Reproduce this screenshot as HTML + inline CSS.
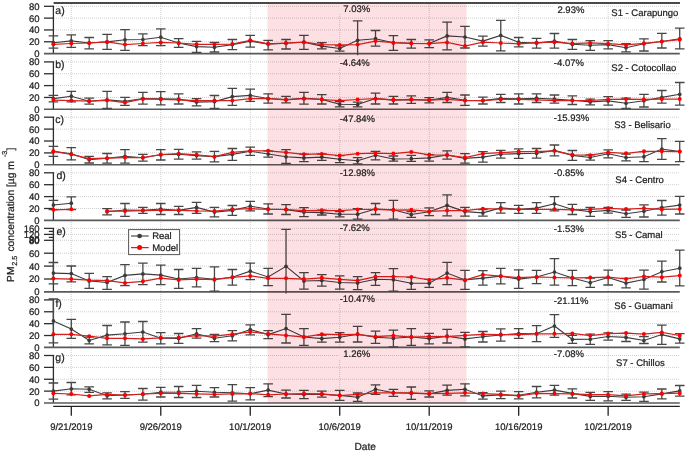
<!DOCTYPE html>
<html><head><meta charset="utf-8"><style>
html,body{margin:0;padding:0;background:#fff;width:685px;height:452px;overflow:hidden;position:relative}
text{font-family:"Liberation Sans",sans-serif;text-rendering:geometricPrecision}
</style></head><body>
<svg width="685" height="452" viewBox="0 0 685 452" style="position:absolute;left:0;top:0;filter:blur(0.35px)">
<defs>
<clipPath id="c0"><rect x="44" y="4.3" width="650" height="50.90"/></clipPath>
<clipPath id="c1"><rect x="44" y="59.9" width="650" height="51.00"/></clipPath>
<clipPath id="c2"><rect x="44" y="115.2" width="650" height="51.20"/></clipPath>
<clipPath id="c3"><rect x="44" y="170.8" width="650" height="51.20"/></clipPath>
<clipPath id="c4"><rect x="44" y="226.4" width="650" height="67.10"/></clipPath>
<clipPath id="c5"><rect x="44" y="297.9" width="650" height="51.10"/></clipPath>
<clipPath id="c6"><rect x="44" y="353.5" width="650" height="51.10"/></clipPath>
</defs>
<rect width="685" height="452" fill="#fff"/>
<g stroke="#d0d0d0" stroke-width="1" stroke-dasharray="1 1" fill="none"><line x1="54" y1="41.77" x2="680" y2="41.77"/><line x1="54" y1="29.95" x2="680" y2="29.95"/><line x1="54" y1="18.12" x2="680" y2="18.12"/><line x1="54" y1="6.30" x2="680" y2="6.30"/><line x1="54" y1="97.45" x2="680" y2="97.45"/><line x1="54" y1="85.60" x2="680" y2="85.60"/><line x1="54" y1="73.75" x2="680" y2="73.75"/><line x1="54" y1="61.90" x2="680" y2="61.90"/><line x1="54" y1="152.90" x2="680" y2="152.90"/><line x1="54" y1="141.00" x2="680" y2="141.00"/><line x1="54" y1="129.10" x2="680" y2="129.10"/><line x1="54" y1="117.20" x2="680" y2="117.20"/><line x1="54" y1="208.50" x2="680" y2="208.50"/><line x1="54" y1="196.60" x2="680" y2="196.60"/><line x1="54" y1="184.70" x2="680" y2="184.70"/><line x1="54" y1="172.80" x2="680" y2="172.80"/><line x1="54" y1="279.00" x2="680" y2="279.00"/><line x1="54" y1="266.10" x2="680" y2="266.10"/><line x1="54" y1="253.20" x2="680" y2="253.20"/><line x1="54" y1="240.30" x2="680" y2="240.30"/><line x1="54" y1="234.40" x2="680" y2="234.40"/><line x1="54" y1="228.40" x2="680" y2="228.40"/><line x1="54" y1="335.52" x2="680" y2="335.52"/><line x1="54" y1="323.65" x2="680" y2="323.65"/><line x1="54" y1="311.77" x2="680" y2="311.77"/><line x1="54" y1="299.90" x2="680" y2="299.90"/><line x1="54" y1="391.12" x2="680" y2="391.12"/><line x1="54" y1="379.25" x2="680" y2="379.25"/><line x1="54" y1="367.38" x2="680" y2="367.38"/><line x1="54" y1="355.50" x2="680" y2="355.50"/><line x1="71.30" y1="4" x2="71.30" y2="403"/><line x1="160.77" y1="4" x2="160.77" y2="403"/><line x1="250.25" y1="4" x2="250.25" y2="403"/><line x1="339.72" y1="4" x2="339.72" y2="403"/><line x1="429.19" y1="4" x2="429.19" y2="403"/><line x1="518.67" y1="4" x2="518.67" y2="403"/><line x1="608.14" y1="4" x2="608.14" y2="403"/></g>
<g fill="#fff"><rect x="338.70" y="3.50" width="31.07" height="10.6"/><rect x="552.80" y="4.60" width="31.07" height="10.6"/><rect x="338.70" y="57.50" width="31.60" height="10.6"/><rect x="552.80" y="57.10" width="31.60" height="10.6"/><rect x="338.70" y="113.30" width="36.88" height="10.6"/><rect x="552.80" y="112.10" width="36.88" height="10.6"/><rect x="338.70" y="168.00" width="36.88" height="10.6"/><rect x="552.80" y="168.00" width="31.60" height="10.6"/><rect x="338.70" y="222.40" width="31.60" height="10.6"/><rect x="552.80" y="223.20" width="31.60" height="10.6"/><rect x="338.70" y="293.10" width="36.88" height="10.6"/><rect x="552.80" y="295.20" width="36.18" height="10.6"/><rect x="338.70" y="348.40" width="31.07" height="10.6"/><rect x="552.80" y="348.40" width="31.60" height="10.6"/></g>
<g stroke="#2e2e2e" stroke-width="1.3" fill="none"><line x1="53.4" y1="5.70" x2="53.4" y2="53.60"/><line x1="44" y1="41.77" x2="53.4" y2="41.77"/><line x1="44" y1="29.95" x2="53.4" y2="29.95"/><line x1="44" y1="18.12" x2="53.4" y2="18.12"/><line x1="44" y1="6.30" x2="53.4" y2="6.30"/><line x1="53.4" y1="61.30" x2="53.4" y2="109.30"/><line x1="44" y1="97.45" x2="53.4" y2="97.45"/><line x1="44" y1="85.60" x2="53.4" y2="85.60"/><line x1="44" y1="73.75" x2="53.4" y2="73.75"/><line x1="44" y1="61.90" x2="53.4" y2="61.90"/><line x1="53.4" y1="116.60" x2="53.4" y2="164.80"/><line x1="44" y1="152.90" x2="53.4" y2="152.90"/><line x1="44" y1="141.00" x2="53.4" y2="141.00"/><line x1="44" y1="129.10" x2="53.4" y2="129.10"/><line x1="44" y1="117.20" x2="53.4" y2="117.20"/><line x1="53.4" y1="172.20" x2="53.4" y2="220.40"/><line x1="44" y1="208.50" x2="53.4" y2="208.50"/><line x1="44" y1="196.60" x2="53.4" y2="196.60"/><line x1="44" y1="184.70" x2="53.4" y2="184.70"/><line x1="44" y1="172.80" x2="53.4" y2="172.80"/><line x1="53.4" y1="227.80" x2="53.4" y2="291.90"/><line x1="44" y1="279.00" x2="53.4" y2="279.00"/><line x1="44" y1="266.10" x2="53.4" y2="266.10"/><line x1="44" y1="253.20" x2="53.4" y2="253.20"/><line x1="44" y1="240.30" x2="53.4" y2="240.30"/><line x1="44" y1="228.40" x2="53.4" y2="228.40"/><line x1="48.8" y1="231.40" x2="53.4" y2="231.40"/><line x1="44" y1="234.40" x2="53.4" y2="234.40"/><line x1="48.8" y1="237.40" x2="53.4" y2="237.40"/><line x1="53.4" y1="299.30" x2="53.4" y2="347.40"/><line x1="44" y1="335.52" x2="53.4" y2="335.52"/><line x1="44" y1="323.65" x2="53.4" y2="323.65"/><line x1="44" y1="311.77" x2="53.4" y2="311.77"/><line x1="44" y1="299.90" x2="53.4" y2="299.90"/><line x1="53.4" y1="354.90" x2="53.4" y2="403.00"/><line x1="44" y1="391.12" x2="53.4" y2="391.12"/><line x1="44" y1="379.25" x2="53.4" y2="379.25"/><line x1="44" y1="367.38" x2="53.4" y2="367.38"/><line x1="44" y1="355.50" x2="53.4" y2="355.50"/></g>
<g stroke="#5a5a5a" stroke-width="1.6"><line x1="44" y1="53.60" x2="679.8" y2="53.60"/><line x1="44" y1="109.30" x2="679.8" y2="109.30"/><line x1="44" y1="164.80" x2="679.8" y2="164.80"/><line x1="44" y1="220.40" x2="679.8" y2="220.40"/><line x1="44" y1="291.90" x2="679.8" y2="291.90"/><line x1="44" y1="347.40" x2="679.8" y2="347.40"/><line x1="44" y1="403.00" x2="679.8" y2="403.00"/></g>
<line x1="53.6" y1="3" x2="680" y2="3" stroke="#4a4a4a" stroke-width="1.9"/>
<g stroke="#222" stroke-width="1.3"><line x1="53.2" y1="406.4" x2="679.8" y2="406.4"/><line x1="71.30" y1="406.4" x2="71.30" y2="415.7"/><line x1="160.77" y1="406.4" x2="160.77" y2="415.7"/><line x1="250.25" y1="406.4" x2="250.25" y2="415.7"/><line x1="339.72" y1="406.4" x2="339.72" y2="415.7"/><line x1="429.19" y1="406.4" x2="429.19" y2="415.7"/><line x1="518.67" y1="406.4" x2="518.67" y2="415.7"/><line x1="608.14" y1="406.4" x2="608.14" y2="415.7"/></g>
<g clip-path="url(#c0)">
<path d="M53.40 35.90V48.20M48.60 35.90H58.20M48.60 48.20H58.20M71.30 34.80V47.40M66.50 34.80H76.09M66.50 47.40H76.09M89.19 37.50V48.80M84.39 37.50H93.99M84.39 48.80H93.99M107.09 34.30V49.30M102.29 34.30H111.89M102.29 49.30H111.89M124.98 29.60V50.40M120.18 29.60H129.78M120.18 50.40H129.78M142.88 33.80V45.70M138.07 33.80H147.68M138.07 45.70H147.68M160.77 28.80V45.70M155.97 28.80H165.57M155.97 45.70H165.57M178.66 38.60V47.40M173.86 38.60H183.47M173.86 47.40H183.47M196.56 41.40V52.40M191.76 41.40H201.36M191.76 52.40H201.36M214.46 42.50V52.00M209.66 42.50H219.26M209.66 52.00H219.26M232.35 39.50V49.60M227.55 39.50H237.15M227.55 49.60H237.15M250.25 35.40V47.20M245.44 35.40H255.05M245.44 47.20H255.05M268.14 40.30V49.80M263.34 40.30H272.94M263.34 49.80H272.94M286.03 39.50V49.00M281.23 39.50H290.83M281.23 49.00H290.83M303.93 35.40V49.30M299.13 35.40H308.73M299.13 49.30H308.73M321.82 42.70V48.80M317.02 42.70H326.62M317.02 48.80H326.62M339.72 45.80V51.20M334.92 45.80H344.52M334.92 51.20H344.52M357.61 20.90V59.70M352.81 20.90H362.41M352.81 59.70H362.41M375.51 30.50V46.10M370.71 30.50H380.31M370.71 46.10H380.31M393.40 35.60V50.40M388.60 35.60H398.20M388.60 50.40H398.20M411.30 39.50V48.20M406.50 39.50H416.10M406.50 48.20H416.10M429.19 39.80V47.70M424.39 39.80H434.00M424.39 47.70H434.00M447.09 22.20V49.80M442.29 22.20H451.89M442.29 49.80H451.89M464.98 26.40V48.00M460.18 26.40H469.78M460.18 48.00H469.78M482.88 36.20V46.10M478.08 36.20H487.68M478.08 46.10H487.68M500.77 20.40V50.90M495.97 20.40H505.57M495.97 50.90H505.57M518.67 37.50V46.90M513.87 37.50H523.47M513.87 46.90H523.47M536.56 38.30V48.20M531.76 38.30H541.36M531.76 48.20H541.36M554.46 33.50V48.20M549.66 33.50H559.26M549.66 48.20H559.26M572.36 39.50V49.30M567.56 39.50H577.15M567.56 49.30H577.15M590.25 40.60V50.30M585.45 40.60H595.05M585.45 50.30H595.05M608.14 40.60V48.80M603.35 40.60H612.94M603.35 48.80H612.94M626.04 43.70V51.80M621.24 43.70H630.84M621.24 51.80H630.84M643.93 38.80V51.00M639.13 38.80H648.73M639.13 51.00H648.73M661.83 33.40V48.00M657.03 33.40H666.63M657.03 48.00H666.63M679.72 28.10V48.80M674.92 28.10H684.52M674.92 48.80H684.52" stroke="#474747" stroke-width="1.3" fill="none"/>
<polyline points="53.40,42.70 71.30,40.90 89.19,43.00 107.09,41.90 124.98,39.80 142.88,39.50 160.77,37.20 178.66,43.00 196.56,46.60 214.46,47.20 232.35,44.60 250.25,41.10 268.14,44.10 286.03,43.30 303.93,42.20 321.82,46.10 339.72,48.50 357.61,40.30 375.51,38.70 393.40,42.70 411.30,43.30 429.19,43.50 447.09,35.90 464.98,37.00 482.88,41.10 500.77,35.40 518.67,42.20 536.56,43.10 554.46,41.10 572.36,44.30 590.25,45.20 608.14,44.60 626.04,47.70 643.93,43.70 661.83,41.50 679.72,38.80" stroke="#3c3c3c" stroke-width="1.1" fill="none"/>
<polyline points="53.40,44.30 71.30,43.50 89.19,43.00 107.09,41.90 124.98,44.60 142.88,43.50 160.77,42.50 178.66,43.00 196.56,44.30 214.46,44.30 232.35,44.10 250.25,40.30 268.14,43.80 286.03,43.00 303.93,42.20 321.82,44.60 339.72,44.90 357.61,44.60 375.51,41.10 393.40,42.70 411.30,43.30 429.19,43.50 447.09,42.50 464.98,46.10 482.88,42.20 500.77,43.00 518.67,43.80 536.56,42.70 554.46,42.20 572.36,43.50 590.25,42.90 608.14,43.70 626.04,44.90 643.93,43.40 661.83,41.50 679.72,39.60" stroke="#d42020" stroke-width="1.25" fill="none"/>
<g fill="#3c3c3c"><circle cx="53.40" cy="42.70" r="1.85"/><circle cx="71.30" cy="40.90" r="1.85"/><circle cx="89.19" cy="43.00" r="1.85"/><circle cx="107.09" cy="41.90" r="1.85"/><circle cx="124.98" cy="39.80" r="1.85"/><circle cx="142.88" cy="39.50" r="1.85"/><circle cx="160.77" cy="37.20" r="1.85"/><circle cx="178.66" cy="43.00" r="1.85"/><circle cx="196.56" cy="46.60" r="1.85"/><circle cx="214.46" cy="47.20" r="1.85"/><circle cx="232.35" cy="44.60" r="1.85"/><circle cx="250.25" cy="41.10" r="1.85"/><circle cx="268.14" cy="44.10" r="1.85"/><circle cx="286.03" cy="43.30" r="1.85"/><circle cx="303.93" cy="42.20" r="1.85"/><circle cx="321.82" cy="46.10" r="1.85"/><circle cx="339.72" cy="48.50" r="1.85"/><circle cx="357.61" cy="40.30" r="1.85"/><circle cx="375.51" cy="38.70" r="1.85"/><circle cx="393.40" cy="42.70" r="1.85"/><circle cx="411.30" cy="43.30" r="1.85"/><circle cx="429.19" cy="43.50" r="1.85"/><circle cx="447.09" cy="35.90" r="1.85"/><circle cx="464.98" cy="37.00" r="1.85"/><circle cx="482.88" cy="41.10" r="1.85"/><circle cx="500.77" cy="35.40" r="1.85"/><circle cx="518.67" cy="42.20" r="1.85"/><circle cx="536.56" cy="43.10" r="1.85"/><circle cx="554.46" cy="41.10" r="1.85"/><circle cx="572.36" cy="44.30" r="1.85"/><circle cx="590.25" cy="45.20" r="1.85"/><circle cx="608.14" cy="44.60" r="1.85"/><circle cx="626.04" cy="47.70" r="1.85"/><circle cx="643.93" cy="43.70" r="1.85"/><circle cx="661.83" cy="41.50" r="1.85"/><circle cx="679.72" cy="38.80" r="1.85"/></g>
<g fill="#ff0000"><circle cx="53.40" cy="44.30" r="2.0"/><circle cx="71.30" cy="43.50" r="2.0"/><circle cx="89.19" cy="43.00" r="2.0"/><circle cx="107.09" cy="41.90" r="2.0"/><circle cx="124.98" cy="44.60" r="2.0"/><circle cx="142.88" cy="43.50" r="2.0"/><circle cx="160.77" cy="42.50" r="2.0"/><circle cx="178.66" cy="43.00" r="2.0"/><circle cx="196.56" cy="44.30" r="2.0"/><circle cx="214.46" cy="44.30" r="2.0"/><circle cx="232.35" cy="44.10" r="2.0"/><circle cx="250.25" cy="40.30" r="2.0"/><circle cx="268.14" cy="43.80" r="2.0"/><circle cx="286.03" cy="43.00" r="2.0"/><circle cx="303.93" cy="42.20" r="2.0"/><circle cx="321.82" cy="44.60" r="2.0"/><circle cx="339.72" cy="44.90" r="2.0"/><circle cx="357.61" cy="44.60" r="2.0"/><circle cx="375.51" cy="41.10" r="2.0"/><circle cx="393.40" cy="42.70" r="2.0"/><circle cx="411.30" cy="43.30" r="2.0"/><circle cx="429.19" cy="43.50" r="2.0"/><circle cx="447.09" cy="42.50" r="2.0"/><circle cx="464.98" cy="46.10" r="2.0"/><circle cx="482.88" cy="42.20" r="2.0"/><circle cx="500.77" cy="43.00" r="2.0"/><circle cx="518.67" cy="43.80" r="2.0"/><circle cx="536.56" cy="42.70" r="2.0"/><circle cx="554.46" cy="42.20" r="2.0"/><circle cx="572.36" cy="43.50" r="2.0"/><circle cx="590.25" cy="42.90" r="2.0"/><circle cx="608.14" cy="43.70" r="2.0"/><circle cx="626.04" cy="44.90" r="2.0"/><circle cx="643.93" cy="43.40" r="2.0"/><circle cx="661.83" cy="41.50" r="2.0"/><circle cx="679.72" cy="39.60" r="2.0"/></g>
</g>
<g clip-path="url(#c1)">
<path d="M53.40 95.40V101.80M48.60 95.40H58.20M48.60 101.80H58.20M71.30 91.40V101.80M66.50 91.40H76.09M66.50 101.80H76.09M89.19 98.20V104.20M84.39 98.20H93.99M84.39 104.20H93.99M107.09 91.40V108.40M102.29 91.40H111.89M102.29 108.40H111.89M124.98 97.40V105.30M120.18 97.40H129.78M120.18 105.30H129.78M142.88 92.40V104.20M138.07 92.40H147.68M138.07 104.20H147.68M160.77 91.60V104.80M155.97 91.60H165.57M155.97 104.80H165.57M178.66 93.80V104.00M173.86 93.80H183.47M173.86 104.00H183.47M196.56 98.70V105.80M191.76 98.70H201.36M191.76 105.80H201.36M214.46 95.50V108.40M209.66 95.50H219.26M209.66 108.40H219.26M232.35 88.40V105.30M227.55 88.40H237.15M227.55 105.30H237.15M250.25 89.20V101.40M245.44 89.20H255.05M245.44 101.40H255.05M268.14 93.90V103.20M263.34 93.90H272.94M263.34 103.20H272.94M286.03 96.30V102.90M281.23 96.30H290.83M281.23 102.90H290.83M303.93 92.40V104.20M299.13 92.40H308.73M299.13 104.20H308.73M321.82 94.70V104.00M317.02 94.70H326.62M317.02 104.00H326.62M339.72 101.50V106.90M334.92 101.50H344.52M334.92 106.90H344.52M357.61 102.10V106.90M352.81 102.10H362.41M352.81 106.90H362.41M375.51 93.20V104.00M370.71 93.20H380.31M370.71 104.00H380.31M393.40 96.30V104.00M388.60 96.30H398.20M388.60 104.00H398.20M411.30 95.80V103.40M406.50 95.80H416.10M406.50 103.40H416.10M429.19 97.70V102.90M424.39 97.70H434.00M424.39 102.90H434.00M447.09 92.40V102.50M442.29 92.40H451.89M442.29 102.50H451.89M464.98 95.00V105.30M460.18 95.00H469.78M460.18 105.30H469.78M482.88 97.10V104.00M478.08 97.10H487.68M478.08 104.00H487.68M500.77 94.30V102.50M495.97 94.30H505.57M495.97 102.50H505.57M518.67 93.80V104.00M513.87 93.80H523.47M513.87 104.00H523.47M536.56 93.80V102.50M531.76 93.80H541.36M531.76 102.50H541.36M554.46 95.00V103.20M549.66 95.00H559.26M549.66 103.20H559.26M572.36 95.80V104.50M567.56 95.80H577.15M567.56 104.50H577.15M590.25 99.10V104.80M585.45 99.10H595.05M585.45 104.80H595.05M608.14 96.60V105.10M603.35 96.60H612.94M603.35 105.10H612.94M626.04 98.10V108.30M621.24 98.10H630.84M621.24 108.30H630.84M643.93 94.30V107.00M639.13 94.30H648.73M639.13 107.00H648.73M661.83 90.50V103.20M657.03 90.50H666.63M657.03 103.20H666.63M679.72 82.50V105.20M674.92 82.50H684.52M674.92 105.20H684.52" stroke="#474747" stroke-width="1.3" fill="none"/>
<polyline points="53.40,98.60 71.30,96.20 89.19,101.20 107.09,99.90 124.98,101.40 142.88,98.50 160.77,98.70 178.66,99.10 196.56,102.10 214.46,101.60 232.35,96.60 250.25,95.40 268.14,98.50 286.03,99.60 303.93,98.30 321.82,99.40 339.72,104.20 357.61,104.50 375.51,98.60 393.40,100.10 411.30,99.60 429.19,100.30 447.09,97.40 464.98,100.20 482.88,100.60 500.77,98.40 518.67,98.90 536.56,98.20 554.46,99.10 572.36,100.20 590.25,101.90 608.14,100.90 626.04,103.20 643.93,100.70 661.83,97.40 679.72,94.30" stroke="#3c3c3c" stroke-width="1.1" fill="none"/>
<polyline points="53.40,100.10 71.30,100.60 89.19,101.00 107.09,100.30 124.98,102.60 142.88,99.00 160.77,99.30 178.66,99.80 196.56,100.60 214.46,100.60 232.35,100.60 250.25,98.70 268.14,98.70 286.03,99.80 303.93,98.70 321.82,99.50 339.72,100.60 357.61,99.50 375.51,98.70 393.40,99.80 411.30,99.50 429.19,100.10 447.09,99.30 464.98,100.60 482.88,100.60 500.77,99.30 518.67,99.30 536.56,99.80 554.46,100.60 572.36,100.60 590.25,100.50 608.14,99.40 626.04,99.10 643.93,99.40 661.83,99.10 679.72,99.10" stroke="#d42020" stroke-width="1.25" fill="none"/>
<g fill="#3c3c3c"><circle cx="53.40" cy="98.60" r="1.85"/><circle cx="71.30" cy="96.20" r="1.85"/><circle cx="89.19" cy="101.20" r="1.85"/><circle cx="107.09" cy="99.90" r="1.85"/><circle cx="124.98" cy="101.40" r="1.85"/><circle cx="142.88" cy="98.50" r="1.85"/><circle cx="160.77" cy="98.70" r="1.85"/><circle cx="178.66" cy="99.10" r="1.85"/><circle cx="196.56" cy="102.10" r="1.85"/><circle cx="214.46" cy="101.60" r="1.85"/><circle cx="232.35" cy="96.60" r="1.85"/><circle cx="250.25" cy="95.40" r="1.85"/><circle cx="268.14" cy="98.50" r="1.85"/><circle cx="286.03" cy="99.60" r="1.85"/><circle cx="303.93" cy="98.30" r="1.85"/><circle cx="321.82" cy="99.40" r="1.85"/><circle cx="339.72" cy="104.20" r="1.85"/><circle cx="357.61" cy="104.50" r="1.85"/><circle cx="375.51" cy="98.60" r="1.85"/><circle cx="393.40" cy="100.10" r="1.85"/><circle cx="411.30" cy="99.60" r="1.85"/><circle cx="429.19" cy="100.30" r="1.85"/><circle cx="447.09" cy="97.40" r="1.85"/><circle cx="464.98" cy="100.20" r="1.85"/><circle cx="482.88" cy="100.60" r="1.85"/><circle cx="500.77" cy="98.40" r="1.85"/><circle cx="518.67" cy="98.90" r="1.85"/><circle cx="536.56" cy="98.20" r="1.85"/><circle cx="554.46" cy="99.10" r="1.85"/><circle cx="572.36" cy="100.20" r="1.85"/><circle cx="590.25" cy="101.90" r="1.85"/><circle cx="608.14" cy="100.90" r="1.85"/><circle cx="626.04" cy="103.20" r="1.85"/><circle cx="643.93" cy="100.70" r="1.85"/><circle cx="661.83" cy="97.40" r="1.85"/><circle cx="679.72" cy="94.30" r="1.85"/></g>
<g fill="#ff0000"><circle cx="53.40" cy="100.10" r="2.0"/><circle cx="71.30" cy="100.60" r="2.0"/><circle cx="89.19" cy="101.00" r="2.0"/><circle cx="107.09" cy="100.30" r="2.0"/><circle cx="124.98" cy="102.60" r="2.0"/><circle cx="142.88" cy="99.00" r="2.0"/><circle cx="160.77" cy="99.30" r="2.0"/><circle cx="178.66" cy="99.80" r="2.0"/><circle cx="196.56" cy="100.60" r="2.0"/><circle cx="214.46" cy="100.60" r="2.0"/><circle cx="232.35" cy="100.60" r="2.0"/><circle cx="250.25" cy="98.70" r="2.0"/><circle cx="268.14" cy="98.70" r="2.0"/><circle cx="286.03" cy="99.80" r="2.0"/><circle cx="303.93" cy="98.70" r="2.0"/><circle cx="321.82" cy="99.50" r="2.0"/><circle cx="339.72" cy="100.60" r="2.0"/><circle cx="357.61" cy="99.50" r="2.0"/><circle cx="375.51" cy="98.70" r="2.0"/><circle cx="393.40" cy="99.80" r="2.0"/><circle cx="411.30" cy="99.50" r="2.0"/><circle cx="429.19" cy="100.10" r="2.0"/><circle cx="447.09" cy="99.30" r="2.0"/><circle cx="464.98" cy="100.60" r="2.0"/><circle cx="482.88" cy="100.60" r="2.0"/><circle cx="500.77" cy="99.30" r="2.0"/><circle cx="518.67" cy="99.30" r="2.0"/><circle cx="536.56" cy="99.80" r="2.0"/><circle cx="554.46" cy="100.60" r="2.0"/><circle cx="572.36" cy="100.60" r="2.0"/><circle cx="590.25" cy="100.50" r="2.0"/><circle cx="608.14" cy="99.40" r="2.0"/><circle cx="626.04" cy="99.10" r="2.0"/><circle cx="643.93" cy="99.40" r="2.0"/><circle cx="661.83" cy="99.10" r="2.0"/><circle cx="679.72" cy="99.10" r="2.0"/></g>
</g>
<g clip-path="url(#c2)">
<path d="M53.40 146.40V156.40M48.60 146.40H58.20M48.60 156.40H58.20M71.30 147.70V159.80M66.50 147.70H76.09M66.50 159.80H76.09M89.19 156.40V163.00M84.39 156.40H93.99M84.39 163.00H93.99M107.09 153.50V163.10M102.29 153.50H111.89M102.29 163.10H111.89M124.98 149.70V163.10M120.18 149.70H129.78M120.18 163.10H129.78M142.88 154.30V161.10M138.07 154.30H147.68M138.07 161.10H147.68M160.77 149.60V160.00M155.97 149.60H165.57M155.97 160.00H165.57M178.66 149.30V159.20M173.86 149.30H183.47M173.86 159.20H183.47M196.56 151.90V159.20M191.76 151.90H201.36M191.76 159.20H201.36M214.46 151.30V161.90M209.66 151.30H219.26M209.66 161.90H219.26M232.35 148.50V160.30M227.55 148.50H237.15M227.55 160.30H237.15M250.25 147.20V155.30M245.44 147.20H255.05M245.44 155.30H255.05M268.14 150.90V157.10M263.34 150.90H272.94M263.34 157.10H272.94M286.03 149.70V163.40M281.23 149.70H290.83M281.23 163.40H290.83M303.93 154.20V161.60M299.13 154.20H308.73M299.13 161.60H308.73M321.82 153.90V160.30M317.02 153.90H326.62M317.02 160.30H326.62M339.72 155.70V162.70M334.92 155.70H344.52M334.92 162.70H344.52M357.61 157.60V163.80M352.81 157.60H362.41M352.81 163.80H362.41M375.51 151.30V159.80M370.71 151.30H380.31M370.71 159.80H380.31M393.40 156.00V161.10M388.60 156.00H398.20M388.60 161.10H398.20M411.30 155.30V161.40M406.50 155.30H416.10M406.50 161.40H416.10M429.19 154.70V161.10M424.39 154.70H434.00M424.39 161.10H434.00M447.09 150.80V159.20M442.29 150.80H451.89M442.29 159.20H451.89M464.98 153.70V163.10M460.18 153.70H469.78M460.18 163.10H469.78M482.88 151.60V162.20M478.08 151.60H487.68M478.08 162.20H487.68M500.77 150.40V158.20M495.97 150.40H505.57M495.97 158.20H505.57M518.67 148.90V158.40M513.87 148.90H523.47M513.87 158.40H523.47M536.56 148.50V158.20M531.76 148.50H541.36M531.76 158.20H541.36M554.46 145.00V155.90M549.66 145.00H559.26M549.66 155.90H559.26M572.36 150.50V160.30M567.56 150.50H577.15M567.56 160.30H577.15M590.25 154.90V160.10M585.45 154.90H595.05M585.45 160.10H595.05M608.14 149.80V157.90M603.35 149.80H612.94M603.35 157.90H612.94M626.04 154.20V160.80M621.24 154.20H630.84M621.24 160.80H630.84M643.93 151.70V161.70M639.13 151.70H648.73M639.13 161.70H648.73M661.83 138.60V159.30M657.03 138.60H666.63M657.03 159.30H666.63M679.72 141.40V161.70M674.92 141.40H684.52M674.92 161.70H684.52" stroke="#474747" stroke-width="1.3" fill="none"/>
<polyline points="53.40,151.40 71.30,153.80 89.19,159.70 107.09,158.30 124.98,156.40 142.88,157.70 160.77,154.80 178.66,154.30 196.56,155.60 214.46,156.60 232.35,154.40 250.25,151.30 268.14,154.00 286.03,156.80 303.93,157.90 321.82,157.10 339.72,159.20 357.61,160.80 375.51,155.30 393.40,159.00 411.30,158.70 429.19,157.90 447.09,155.00 464.98,158.40 482.88,157.10 500.77,154.30 518.67,153.60 536.56,153.30 554.46,150.40 572.36,155.40 590.25,157.50 608.14,153.80 626.04,157.50 643.93,156.70 661.83,149.00 679.72,151.60" stroke="#3c3c3c" stroke-width="1.1" fill="none"/>
<polyline points="53.40,151.30 71.30,154.30 89.19,158.70 107.09,158.20 124.98,157.60 142.88,157.60 160.77,154.50 178.66,153.70 196.56,154.80 214.46,156.70 232.35,152.40 250.25,150.80 268.14,150.80 286.03,152.40 303.93,154.30 321.82,154.00 339.72,155.60 357.61,153.70 375.51,153.20 393.40,153.50 411.30,151.90 429.19,154.80 447.09,155.10 464.98,157.60 482.88,153.70 500.77,152.70 518.67,151.60 536.56,151.60 554.46,150.80 572.36,154.80 590.25,155.20 608.14,152.50 626.04,153.30 643.93,151.30 661.83,151.30 679.72,151.60" stroke="#d42020" stroke-width="1.25" fill="none"/>
<g fill="#3c3c3c"><circle cx="53.40" cy="151.40" r="1.85"/><circle cx="71.30" cy="153.80" r="1.85"/><circle cx="89.19" cy="159.70" r="1.85"/><circle cx="107.09" cy="158.30" r="1.85"/><circle cx="124.98" cy="156.40" r="1.85"/><circle cx="142.88" cy="157.70" r="1.85"/><circle cx="160.77" cy="154.80" r="1.85"/><circle cx="178.66" cy="154.30" r="1.85"/><circle cx="196.56" cy="155.60" r="1.85"/><circle cx="214.46" cy="156.60" r="1.85"/><circle cx="232.35" cy="154.40" r="1.85"/><circle cx="250.25" cy="151.30" r="1.85"/><circle cx="268.14" cy="154.00" r="1.85"/><circle cx="286.03" cy="156.80" r="1.85"/><circle cx="303.93" cy="157.90" r="1.85"/><circle cx="321.82" cy="157.10" r="1.85"/><circle cx="339.72" cy="159.20" r="1.85"/><circle cx="357.61" cy="160.80" r="1.85"/><circle cx="375.51" cy="155.30" r="1.85"/><circle cx="393.40" cy="159.00" r="1.85"/><circle cx="411.30" cy="158.70" r="1.85"/><circle cx="429.19" cy="157.90" r="1.85"/><circle cx="447.09" cy="155.00" r="1.85"/><circle cx="464.98" cy="158.40" r="1.85"/><circle cx="482.88" cy="157.10" r="1.85"/><circle cx="500.77" cy="154.30" r="1.85"/><circle cx="518.67" cy="153.60" r="1.85"/><circle cx="536.56" cy="153.30" r="1.85"/><circle cx="554.46" cy="150.40" r="1.85"/><circle cx="572.36" cy="155.40" r="1.85"/><circle cx="590.25" cy="157.50" r="1.85"/><circle cx="608.14" cy="153.80" r="1.85"/><circle cx="626.04" cy="157.50" r="1.85"/><circle cx="643.93" cy="156.70" r="1.85"/><circle cx="661.83" cy="149.00" r="1.85"/><circle cx="679.72" cy="151.60" r="1.85"/></g>
<g fill="#ff0000"><circle cx="53.40" cy="151.30" r="2.0"/><circle cx="71.30" cy="154.30" r="2.0"/><circle cx="89.19" cy="158.70" r="2.0"/><circle cx="107.09" cy="158.20" r="2.0"/><circle cx="124.98" cy="157.60" r="2.0"/><circle cx="142.88" cy="157.60" r="2.0"/><circle cx="160.77" cy="154.50" r="2.0"/><circle cx="178.66" cy="153.70" r="2.0"/><circle cx="196.56" cy="154.80" r="2.0"/><circle cx="214.46" cy="156.70" r="2.0"/><circle cx="232.35" cy="152.40" r="2.0"/><circle cx="250.25" cy="150.80" r="2.0"/><circle cx="268.14" cy="150.80" r="2.0"/><circle cx="286.03" cy="152.40" r="2.0"/><circle cx="303.93" cy="154.30" r="2.0"/><circle cx="321.82" cy="154.00" r="2.0"/><circle cx="339.72" cy="155.60" r="2.0"/><circle cx="357.61" cy="153.70" r="2.0"/><circle cx="375.51" cy="153.20" r="2.0"/><circle cx="393.40" cy="153.50" r="2.0"/><circle cx="411.30" cy="151.90" r="2.0"/><circle cx="429.19" cy="154.80" r="2.0"/><circle cx="447.09" cy="155.10" r="2.0"/><circle cx="464.98" cy="157.60" r="2.0"/><circle cx="482.88" cy="153.70" r="2.0"/><circle cx="500.77" cy="152.70" r="2.0"/><circle cx="518.67" cy="151.60" r="2.0"/><circle cx="536.56" cy="151.60" r="2.0"/><circle cx="554.46" cy="150.80" r="2.0"/><circle cx="572.36" cy="154.80" r="2.0"/><circle cx="590.25" cy="155.20" r="2.0"/><circle cx="608.14" cy="152.50" r="2.0"/><circle cx="626.04" cy="153.30" r="2.0"/><circle cx="643.93" cy="151.30" r="2.0"/><circle cx="661.83" cy="151.30" r="2.0"/><circle cx="679.72" cy="151.60" r="2.0"/></g>
</g>
<g clip-path="url(#c3)">
<path d="M53.40 200.30V209.70M48.60 200.30H58.20M48.60 209.70H58.20M71.30 196.90V209.50M66.50 196.90H76.09M66.50 209.50H76.09M107.09 208.70V214.80M102.29 208.70H111.89M102.29 214.80H111.89M124.98 203.50V216.40M120.18 203.50H129.78M120.18 216.40H129.78M142.88 207.40V213.40M138.07 207.40H147.68M138.07 213.40H147.68M160.77 203.50V214.50M155.97 203.50H165.57M155.97 214.50H165.57M178.66 206.30V214.50M173.86 206.30H183.47M173.86 214.50H183.47M196.56 202.40V213.40M191.76 202.40H201.36M191.76 213.40H201.36M214.46 207.40V216.90M209.66 207.40H219.26M209.66 216.90H219.26M232.35 205.50V215.30M227.55 205.50H237.15M227.55 215.30H237.15M250.25 201.40V210.90M245.44 201.40H255.05M245.44 210.90H255.05M268.14 203.90V214.00M263.34 203.90H272.94M263.34 214.00H272.94M286.03 204.70V214.50M281.23 204.70H290.83M281.23 214.50H290.83M303.93 207.70V216.60M299.13 207.70H308.73M299.13 216.60H308.73M321.82 210.20V215.00M317.02 210.20H326.62M317.02 215.00H326.62M339.72 211.50V216.90M334.92 211.50H344.52M334.92 216.90H344.52M357.61 208.70V219.20M352.81 208.70H362.41M352.81 219.20H362.41M375.51 203.50V214.50M370.71 203.50H380.31M370.71 214.50H380.31M393.40 200.30V219.20M388.60 200.30H398.20M388.60 219.20H398.20M411.30 211.70V217.30M406.50 211.70H416.10M406.50 217.30H416.10M429.19 207.90V215.60M424.39 207.90H434.00M424.39 215.60H434.00M447.09 194.80V215.80M442.29 194.80H451.89M442.29 215.80H451.89M464.98 207.40V216.10M460.18 207.40H469.78M460.18 216.10H469.78M482.88 209.70V216.10M478.08 209.70H487.68M478.08 216.10H487.68M500.77 202.70V213.20M495.97 202.70H505.57M495.97 213.20H505.57M518.67 205.40V213.40M513.87 205.40H523.47M513.87 213.40H523.47M536.56 202.70V213.40M531.76 202.70H541.36M531.76 213.40H541.36M554.46 196.70V210.90M549.66 196.70H559.26M549.66 210.90H559.26M572.36 204.30V214.50M567.56 204.30H577.15M567.56 214.50H577.15M590.25 207.50V216.30M585.45 207.50H595.05M585.45 216.30H595.05M608.14 207.50V213.20M603.35 207.50H612.94M603.35 213.20H612.94M626.04 210.00V217.40M621.24 210.00H630.84M621.24 217.40H630.84M643.93 204.80V217.00M639.13 204.80H648.73M639.13 217.00H648.73M661.83 200.50V215.10M657.03 200.50H666.63M657.03 215.10H666.63M679.72 196.40V214.00M674.92 196.40H684.52M674.92 214.00H684.52" stroke="#474747" stroke-width="1.3" fill="none"/>
<polyline points="53.40,205.00 71.30,203.20" stroke="#3c3c3c" stroke-width="1.1" fill="none"/>
<polyline points="107.09,211.70 124.98,210.00 142.88,210.40 160.77,209.00 178.66,210.40 196.56,207.40 214.46,212.10 232.35,210.40 250.25,206.20 268.14,209.00 286.03,209.60 303.93,212.10 321.82,212.60 339.72,214.20 357.61,214.20 375.51,209.00 393.40,209.80 411.30,214.50 429.19,211.70 447.09,205.40 464.98,211.60 482.88,212.90 500.77,207.90 518.67,209.40 536.56,208.10 554.46,203.80 572.36,209.40 590.25,211.70 608.14,210.40 626.04,213.70 643.93,211.20 661.83,207.50 679.72,205.10" stroke="#3c3c3c" stroke-width="1.1" fill="none"/>
<polyline points="53.40,209.80 71.30,209.30" stroke="#d42020" stroke-width="1.25" fill="none"/>
<polyline points="107.09,211.00 124.98,211.00 142.88,210.60 160.77,210.30 178.66,210.30 196.56,210.90 214.46,211.00 232.35,209.30 250.25,208.70 268.14,209.30 286.03,209.50 303.93,210.60 321.82,210.30 339.72,210.60 357.61,209.50 375.51,209.30 393.40,210.10 411.30,209.80 429.19,211.40 447.09,210.60 464.98,210.60 482.88,208.70 500.77,209.00 518.67,209.30 536.56,209.30 554.46,209.30 572.36,209.80 590.25,209.40 608.14,208.30 626.04,209.10 643.93,208.30 661.83,209.40 679.72,209.10" stroke="#d42020" stroke-width="1.25" fill="none"/>
<g fill="#3c3c3c"><circle cx="53.40" cy="205.00" r="1.85"/><circle cx="71.30" cy="203.20" r="1.85"/><circle cx="107.09" cy="211.70" r="1.85"/><circle cx="124.98" cy="210.00" r="1.85"/><circle cx="142.88" cy="210.40" r="1.85"/><circle cx="160.77" cy="209.00" r="1.85"/><circle cx="178.66" cy="210.40" r="1.85"/><circle cx="196.56" cy="207.40" r="1.85"/><circle cx="214.46" cy="212.10" r="1.85"/><circle cx="232.35" cy="210.40" r="1.85"/><circle cx="250.25" cy="206.20" r="1.85"/><circle cx="268.14" cy="209.00" r="1.85"/><circle cx="286.03" cy="209.60" r="1.85"/><circle cx="303.93" cy="212.10" r="1.85"/><circle cx="321.82" cy="212.60" r="1.85"/><circle cx="339.72" cy="214.20" r="1.85"/><circle cx="357.61" cy="214.20" r="1.85"/><circle cx="375.51" cy="209.00" r="1.85"/><circle cx="393.40" cy="209.80" r="1.85"/><circle cx="411.30" cy="214.50" r="1.85"/><circle cx="429.19" cy="211.70" r="1.85"/><circle cx="447.09" cy="205.40" r="1.85"/><circle cx="464.98" cy="211.60" r="1.85"/><circle cx="482.88" cy="212.90" r="1.85"/><circle cx="500.77" cy="207.90" r="1.85"/><circle cx="518.67" cy="209.40" r="1.85"/><circle cx="536.56" cy="208.10" r="1.85"/><circle cx="554.46" cy="203.80" r="1.85"/><circle cx="572.36" cy="209.40" r="1.85"/><circle cx="590.25" cy="211.70" r="1.85"/><circle cx="608.14" cy="210.40" r="1.85"/><circle cx="626.04" cy="213.70" r="1.85"/><circle cx="643.93" cy="211.20" r="1.85"/><circle cx="661.83" cy="207.50" r="1.85"/><circle cx="679.72" cy="205.10" r="1.85"/></g>
<g fill="#ff0000"><circle cx="53.40" cy="209.80" r="2.0"/><circle cx="71.30" cy="209.30" r="2.0"/><circle cx="107.09" cy="211.00" r="2.0"/><circle cx="124.98" cy="211.00" r="2.0"/><circle cx="142.88" cy="210.60" r="2.0"/><circle cx="160.77" cy="210.30" r="2.0"/><circle cx="178.66" cy="210.30" r="2.0"/><circle cx="196.56" cy="210.90" r="2.0"/><circle cx="214.46" cy="211.00" r="2.0"/><circle cx="232.35" cy="209.30" r="2.0"/><circle cx="250.25" cy="208.70" r="2.0"/><circle cx="268.14" cy="209.30" r="2.0"/><circle cx="286.03" cy="209.50" r="2.0"/><circle cx="303.93" cy="210.60" r="2.0"/><circle cx="321.82" cy="210.30" r="2.0"/><circle cx="339.72" cy="210.60" r="2.0"/><circle cx="357.61" cy="209.50" r="2.0"/><circle cx="375.51" cy="209.30" r="2.0"/><circle cx="393.40" cy="210.10" r="2.0"/><circle cx="411.30" cy="209.80" r="2.0"/><circle cx="429.19" cy="211.40" r="2.0"/><circle cx="447.09" cy="210.60" r="2.0"/><circle cx="464.98" cy="210.60" r="2.0"/><circle cx="482.88" cy="208.70" r="2.0"/><circle cx="500.77" cy="209.00" r="2.0"/><circle cx="518.67" cy="209.30" r="2.0"/><circle cx="536.56" cy="209.30" r="2.0"/><circle cx="554.46" cy="209.30" r="2.0"/><circle cx="572.36" cy="209.80" r="2.0"/><circle cx="590.25" cy="209.40" r="2.0"/><circle cx="608.14" cy="208.30" r="2.0"/><circle cx="626.04" cy="209.10" r="2.0"/><circle cx="643.93" cy="208.30" r="2.0"/><circle cx="661.83" cy="209.40" r="2.0"/><circle cx="679.72" cy="209.10" r="2.0"/></g>
</g>
<g clip-path="url(#c4)">
<path d="M53.40 262.50V283.80M48.60 262.50H58.20M48.60 283.80H58.20M71.30 266.00V281.80M66.50 266.00H76.09M66.50 281.80H76.09M89.19 273.40V288.40M84.39 273.40H93.99M84.39 288.40H93.99M107.09 276.70V289.30M102.29 276.70H111.89M102.29 289.30H111.89M124.98 264.70V285.70M120.18 264.70H129.78M120.18 285.70H129.78M142.88 263.20V284.60M138.07 263.20H147.68M138.07 284.60H147.68M160.77 265.20V284.60M155.97 265.20H165.57M155.97 284.60H165.57M178.66 269.50V288.40M173.86 269.50H183.47M173.86 288.40H183.47M196.56 268.40V286.80M191.76 268.40H201.36M191.76 286.80H201.36M214.46 266.80V291.20M209.66 266.80H219.26M209.66 291.20H219.26M232.35 269.50V285.20M227.55 269.50H237.15M227.55 285.20H237.15M250.25 263.20V279.70M245.44 263.20H255.05M245.44 279.70H255.05M268.14 268.40V285.70M263.34 268.40H272.94M263.34 285.70H272.94M286.03 229.40V303.00M281.23 229.40H290.83M281.23 303.00H290.83M303.93 272.60V289.20M299.13 272.60H308.73M299.13 289.20H308.73M321.82 274.70V286.20M317.02 274.70H326.62M317.02 286.20H326.62M339.72 275.80V289.20M334.92 275.80H344.52M334.92 289.20H344.52M357.61 276.60V289.60M352.81 276.60H362.41M352.81 289.60H362.41M375.51 272.60V285.40M370.71 272.60H380.31M370.71 285.40H380.31M393.40 268.70V291.20M388.60 268.70H398.20M388.60 291.20H398.20M411.30 277.30V289.30M406.50 277.30H416.10M406.50 289.30H416.10M429.19 279.30V287.30M424.39 279.30H434.00M424.39 287.30H434.00M447.09 262.40V284.60M442.29 262.40H451.89M442.29 284.60H451.89M464.98 270.40V289.30M460.18 270.40H469.78M460.18 289.30H469.78M482.88 270.70V285.20M478.08 270.70H487.68M478.08 285.20H487.68M500.77 268.40V283.80M495.97 268.40H505.57M495.97 283.80H505.57M518.67 269.90V288.40M513.87 269.90H523.47M513.87 288.40H523.47M536.56 270.40V283.60M531.76 270.40H541.36M531.76 283.60H541.36M554.46 258.60V285.20M549.66 258.60H559.26M549.66 285.20H559.26M572.36 270.40V285.70M567.56 270.40H577.15M567.56 285.70H577.15M590.25 278.00V287.40M585.45 278.00H595.05M585.45 287.40H595.05M608.14 270.10V285.00M603.35 270.10H612.94M603.35 285.00H612.94M626.04 278.40V287.80M621.24 278.40H630.84M621.24 287.80H630.84M643.93 270.20V289.10M639.13 270.20H648.73M639.13 289.10H648.73M661.83 261.10V282.00M657.03 261.10H666.63M657.03 282.00H666.63M679.72 250.10V285.80M674.92 250.10H684.52M674.92 285.80H684.52" stroke="#474747" stroke-width="1.3" fill="none"/>
<polyline points="53.40,273.10 71.30,273.60 89.19,280.90 107.09,282.50 124.98,275.40 142.88,273.90 160.77,275.10 178.66,279.00 196.56,277.50 214.46,279.20 232.35,277.30 250.25,271.20 268.14,277.00 286.03,266.30 303.93,281.00 321.82,280.50 339.72,282.50 357.61,283.00 375.51,279.20 393.40,279.70 411.30,283.30 429.19,283.30 447.09,273.10 464.98,279.90 482.88,278.10 500.77,276.10 518.67,279.10 536.56,277.00 554.46,272.00 572.36,278.00 590.25,282.70 608.14,277.50 626.04,283.10 643.93,279.50 661.83,271.70 679.72,268.20" stroke="#3c3c3c" stroke-width="1.1" fill="none"/>
<polyline points="53.40,278.60 71.30,279.10 89.19,280.20 107.09,280.70 124.98,282.90 142.88,281.30 160.77,278.10 178.66,279.90 196.56,279.10 214.46,279.70 232.35,277.30 250.25,275.90 268.14,278.30 286.03,278.30 303.93,279.10 321.82,277.80 339.72,279.40 357.61,280.50 375.51,276.70 393.40,276.70 411.30,277.00 429.19,279.90 447.09,277.80 464.98,280.20 482.88,274.70 500.77,276.20 518.67,277.50 536.56,277.00 554.46,277.50 572.36,277.80 590.25,277.60 608.14,277.20 626.04,278.90 643.93,276.40 661.83,277.20 679.72,275.60" stroke="#d42020" stroke-width="1.25" fill="none"/>
<g fill="#3c3c3c"><circle cx="53.40" cy="273.10" r="1.85"/><circle cx="71.30" cy="273.60" r="1.85"/><circle cx="89.19" cy="280.90" r="1.85"/><circle cx="107.09" cy="282.50" r="1.85"/><circle cx="124.98" cy="275.40" r="1.85"/><circle cx="142.88" cy="273.90" r="1.85"/><circle cx="160.77" cy="275.10" r="1.85"/><circle cx="178.66" cy="279.00" r="1.85"/><circle cx="196.56" cy="277.50" r="1.85"/><circle cx="214.46" cy="279.20" r="1.85"/><circle cx="232.35" cy="277.30" r="1.85"/><circle cx="250.25" cy="271.20" r="1.85"/><circle cx="268.14" cy="277.00" r="1.85"/><circle cx="286.03" cy="266.30" r="1.85"/><circle cx="303.93" cy="281.00" r="1.85"/><circle cx="321.82" cy="280.50" r="1.85"/><circle cx="339.72" cy="282.50" r="1.85"/><circle cx="357.61" cy="283.00" r="1.85"/><circle cx="375.51" cy="279.20" r="1.85"/><circle cx="393.40" cy="279.70" r="1.85"/><circle cx="411.30" cy="283.30" r="1.85"/><circle cx="429.19" cy="283.30" r="1.85"/><circle cx="447.09" cy="273.10" r="1.85"/><circle cx="464.98" cy="279.90" r="1.85"/><circle cx="482.88" cy="278.10" r="1.85"/><circle cx="500.77" cy="276.10" r="1.85"/><circle cx="518.67" cy="279.10" r="1.85"/><circle cx="536.56" cy="277.00" r="1.85"/><circle cx="554.46" cy="272.00" r="1.85"/><circle cx="572.36" cy="278.00" r="1.85"/><circle cx="590.25" cy="282.70" r="1.85"/><circle cx="608.14" cy="277.50" r="1.85"/><circle cx="626.04" cy="283.10" r="1.85"/><circle cx="643.93" cy="279.50" r="1.85"/><circle cx="661.83" cy="271.70" r="1.85"/><circle cx="679.72" cy="268.20" r="1.85"/></g>
<g fill="#ff0000"><circle cx="53.40" cy="278.60" r="2.0"/><circle cx="71.30" cy="279.10" r="2.0"/><circle cx="89.19" cy="280.20" r="2.0"/><circle cx="107.09" cy="280.70" r="2.0"/><circle cx="124.98" cy="282.90" r="2.0"/><circle cx="142.88" cy="281.30" r="2.0"/><circle cx="160.77" cy="278.10" r="2.0"/><circle cx="178.66" cy="279.90" r="2.0"/><circle cx="196.56" cy="279.10" r="2.0"/><circle cx="214.46" cy="279.70" r="2.0"/><circle cx="232.35" cy="277.30" r="2.0"/><circle cx="250.25" cy="275.90" r="2.0"/><circle cx="268.14" cy="278.30" r="2.0"/><circle cx="286.03" cy="278.30" r="2.0"/><circle cx="303.93" cy="279.10" r="2.0"/><circle cx="321.82" cy="277.80" r="2.0"/><circle cx="339.72" cy="279.40" r="2.0"/><circle cx="357.61" cy="280.50" r="2.0"/><circle cx="375.51" cy="276.70" r="2.0"/><circle cx="393.40" cy="276.70" r="2.0"/><circle cx="411.30" cy="277.00" r="2.0"/><circle cx="429.19" cy="279.90" r="2.0"/><circle cx="447.09" cy="277.80" r="2.0"/><circle cx="464.98" cy="280.20" r="2.0"/><circle cx="482.88" cy="274.70" r="2.0"/><circle cx="500.77" cy="276.20" r="2.0"/><circle cx="518.67" cy="277.50" r="2.0"/><circle cx="536.56" cy="277.00" r="2.0"/><circle cx="554.46" cy="277.50" r="2.0"/><circle cx="572.36" cy="277.80" r="2.0"/><circle cx="590.25" cy="277.60" r="2.0"/><circle cx="608.14" cy="277.20" r="2.0"/><circle cx="626.04" cy="278.90" r="2.0"/><circle cx="643.93" cy="276.40" r="2.0"/><circle cx="661.83" cy="277.20" r="2.0"/><circle cx="679.72" cy="275.60" r="2.0"/></g>
</g>
<g clip-path="url(#c5)">
<path d="M53.40 299.00V342.80M48.60 299.00H58.20M48.60 342.80H58.20M71.30 319.30V338.30M66.50 319.30H76.09M66.50 338.30H76.09M89.19 337.20V343.80M84.39 337.20H93.99M84.39 343.80H93.99M107.09 325.50V344.90M102.29 325.50H111.89M102.29 344.90H111.89M124.98 322.00V345.30M120.18 322.00H129.78M120.18 345.30H129.78M142.88 321.50V342.20M138.07 321.50H147.68M138.07 342.20H147.68M160.77 332.60V343.80M155.97 332.60H165.57M155.97 343.80H165.57M178.66 333.50V343.30M173.86 333.50H183.47M173.86 343.30H183.47M196.56 328.60V338.10M191.76 328.60H201.36M191.76 338.10H201.36M214.46 334.30V341.70M209.66 334.30H219.26M209.66 341.70H219.26M232.35 330.70V340.90M227.55 330.70H237.15M227.55 340.90H237.15M250.25 324.90V334.90M245.44 324.90H255.05M245.44 334.90H255.05M268.14 330.70V338.60M263.34 330.70H272.94M263.34 338.60H272.94M286.03 314.40V343.00M281.23 314.40H290.83M281.23 343.00H290.83M303.93 328.60V345.30M299.13 328.60H308.73M299.13 345.30H308.73M321.82 335.00V342.20M317.02 335.00H326.62M317.02 342.20H326.62M339.72 332.60V342.20M334.92 332.60H344.52M334.92 342.20H344.52M357.61 326.30V342.00M352.81 326.30H362.41M352.81 342.00H362.41M375.51 331.20V343.30M370.71 331.20H380.31M370.71 343.30H380.31M393.40 330.20V346.80M388.60 330.20H398.20M388.60 346.80H398.20M411.30 328.60V345.30M406.50 328.60H416.10M406.50 345.30H416.10M429.19 333.40V343.80M424.39 333.40H434.00M424.39 343.80H434.00M447.09 329.40V343.00M442.29 329.40H451.89M442.29 343.00H451.89M464.98 332.30V346.80M460.18 332.30H469.78M460.18 346.80H469.78M482.88 331.50V342.00M478.08 331.50H487.68M478.08 342.00H487.68M500.77 328.80V341.20M495.97 328.80H505.57M495.97 341.20H505.57M518.67 328.60V338.30M513.87 328.60H523.47M513.87 338.30H523.47M536.56 325.60V341.70M531.76 325.60H541.36M531.76 341.70H541.36M554.46 314.60V337.30M549.66 314.60H559.26M549.66 337.30H559.26M572.36 335.40V343.30M567.56 335.40H577.15M567.56 343.30H577.15M590.25 334.10V344.30M585.45 334.10H595.05M585.45 344.30H595.05M608.14 332.80V340.10M603.35 332.80H612.94M603.35 340.10H612.94M626.04 333.30V341.50M621.24 333.30H630.84M621.24 341.50H630.84M643.93 336.60V343.50M639.13 336.60H648.73M639.13 343.50H648.73M661.83 325.10V344.30M657.03 325.10H666.63M657.03 344.30H666.63M679.72 333.60V343.20M674.92 333.60H684.52M674.92 343.20H684.52" stroke="#474747" stroke-width="1.3" fill="none"/>
<polyline points="53.40,320.90 71.30,329.10 89.19,340.50 107.09,335.10 124.98,333.80 142.88,332.00 160.77,338.20 178.66,338.40 196.56,333.80 214.46,338.30 232.35,335.80 250.25,329.60 268.14,334.60 286.03,328.60 303.93,337.00 321.82,338.60 339.72,337.30 357.61,334.20 375.51,337.30 393.40,338.30 411.30,337.00 429.19,338.60 447.09,336.20 464.98,338.90 482.88,336.70 500.77,335.00 518.67,333.50 536.56,333.70 554.46,326.00 572.36,339.40 590.25,339.20 608.14,336.50 626.04,337.40 643.93,340.50 661.83,334.60 679.72,338.90" stroke="#3c3c3c" stroke-width="1.1" fill="none"/>
<polyline points="53.40,334.30 71.30,334.30 89.19,336.20 107.09,338.30 124.98,338.30 142.88,338.90 160.77,337.80 178.66,337.50 196.56,335.70 214.46,336.20 232.35,334.20 250.25,332.00 268.14,333.80 286.03,335.40 303.93,337.00 321.82,334.20 339.72,334.60 357.61,334.30 375.51,336.70 393.40,335.70 411.30,337.00 429.19,336.50 447.09,336.50 464.98,335.40 482.88,334.30 500.77,334.60 518.67,334.60 536.56,333.80 554.46,333.80 572.36,333.40 590.25,335.50 608.14,333.60 626.04,333.10 643.93,334.00 661.83,332.50 679.72,335.50" stroke="#d42020" stroke-width="1.25" fill="none"/>
<g fill="#3c3c3c"><circle cx="53.40" cy="320.90" r="1.85"/><circle cx="71.30" cy="329.10" r="1.85"/><circle cx="89.19" cy="340.50" r="1.85"/><circle cx="107.09" cy="335.10" r="1.85"/><circle cx="124.98" cy="333.80" r="1.85"/><circle cx="142.88" cy="332.00" r="1.85"/><circle cx="160.77" cy="338.20" r="1.85"/><circle cx="178.66" cy="338.40" r="1.85"/><circle cx="196.56" cy="333.80" r="1.85"/><circle cx="214.46" cy="338.30" r="1.85"/><circle cx="232.35" cy="335.80" r="1.85"/><circle cx="250.25" cy="329.60" r="1.85"/><circle cx="268.14" cy="334.60" r="1.85"/><circle cx="286.03" cy="328.60" r="1.85"/><circle cx="303.93" cy="337.00" r="1.85"/><circle cx="321.82" cy="338.60" r="1.85"/><circle cx="339.72" cy="337.30" r="1.85"/><circle cx="357.61" cy="334.20" r="1.85"/><circle cx="375.51" cy="337.30" r="1.85"/><circle cx="393.40" cy="338.30" r="1.85"/><circle cx="411.30" cy="337.00" r="1.85"/><circle cx="429.19" cy="338.60" r="1.85"/><circle cx="447.09" cy="336.20" r="1.85"/><circle cx="464.98" cy="338.90" r="1.85"/><circle cx="482.88" cy="336.70" r="1.85"/><circle cx="500.77" cy="335.00" r="1.85"/><circle cx="518.67" cy="333.50" r="1.85"/><circle cx="536.56" cy="333.70" r="1.85"/><circle cx="554.46" cy="326.00" r="1.85"/><circle cx="572.36" cy="339.40" r="1.85"/><circle cx="590.25" cy="339.20" r="1.85"/><circle cx="608.14" cy="336.50" r="1.85"/><circle cx="626.04" cy="337.40" r="1.85"/><circle cx="643.93" cy="340.50" r="1.85"/><circle cx="661.83" cy="334.60" r="1.85"/><circle cx="679.72" cy="338.90" r="1.85"/></g>
<g fill="#ff0000"><circle cx="53.40" cy="334.30" r="2.0"/><circle cx="71.30" cy="334.30" r="2.0"/><circle cx="89.19" cy="336.20" r="2.0"/><circle cx="107.09" cy="338.30" r="2.0"/><circle cx="124.98" cy="338.30" r="2.0"/><circle cx="142.88" cy="338.90" r="2.0"/><circle cx="160.77" cy="337.80" r="2.0"/><circle cx="178.66" cy="337.50" r="2.0"/><circle cx="196.56" cy="335.70" r="2.0"/><circle cx="214.46" cy="336.20" r="2.0"/><circle cx="232.35" cy="334.20" r="2.0"/><circle cx="250.25" cy="332.00" r="2.0"/><circle cx="268.14" cy="333.80" r="2.0"/><circle cx="286.03" cy="335.40" r="2.0"/><circle cx="303.93" cy="337.00" r="2.0"/><circle cx="321.82" cy="334.20" r="2.0"/><circle cx="339.72" cy="334.60" r="2.0"/><circle cx="357.61" cy="334.30" r="2.0"/><circle cx="375.51" cy="336.70" r="2.0"/><circle cx="393.40" cy="335.70" r="2.0"/><circle cx="411.30" cy="337.00" r="2.0"/><circle cx="429.19" cy="336.50" r="2.0"/><circle cx="447.09" cy="336.50" r="2.0"/><circle cx="464.98" cy="335.40" r="2.0"/><circle cx="482.88" cy="334.30" r="2.0"/><circle cx="500.77" cy="334.60" r="2.0"/><circle cx="518.67" cy="334.60" r="2.0"/><circle cx="536.56" cy="333.80" r="2.0"/><circle cx="554.46" cy="333.80" r="2.0"/><circle cx="572.36" cy="333.40" r="2.0"/><circle cx="590.25" cy="335.50" r="2.0"/><circle cx="608.14" cy="333.60" r="2.0"/><circle cx="626.04" cy="333.10" r="2.0"/><circle cx="643.93" cy="334.00" r="2.0"/><circle cx="661.83" cy="332.50" r="2.0"/><circle cx="679.72" cy="335.50" r="2.0"/></g>
</g>
<g clip-path="url(#c6)">
<path d="M53.40 383.00V399.10M48.60 383.00H58.20M48.60 399.10H58.20M71.30 382.50V394.80M66.50 382.50H76.09M66.50 394.80H76.09M89.19 386.80V392.30M84.39 386.80H93.99M84.39 392.30H93.99M107.09 392.80V398.80M102.29 392.80H111.89M102.29 398.80H111.89M124.98 391.70V398.30M120.18 391.70H129.78M120.18 398.30H129.78M142.88 388.50V400.20M138.07 388.50H147.68M138.07 400.20H147.68M160.77 387.30V397.00M155.97 387.30H165.57M155.97 397.00H165.57M178.66 386.50V397.50M173.86 386.50H183.47M173.86 397.50H183.47M196.56 385.40V397.50M191.76 385.40H201.36M191.76 397.50H201.36M214.46 387.60V397.00M209.66 387.60H219.26M209.66 397.00H219.26M232.35 384.60V401.10M227.55 384.60H237.15M227.55 401.10H237.15M250.25 387.60V399.90M245.44 387.60H255.05M245.44 399.90H255.05M268.14 383.80V396.70M263.34 383.80H272.94M263.34 396.70H272.94M286.03 390.10V398.00M281.23 390.10H290.83M281.23 398.00H290.83M303.93 390.40V398.60M299.13 390.40H308.73M299.13 398.60H308.73M321.82 391.20V397.20M317.02 391.20H326.62M317.02 397.20H326.62M339.72 390.40V400.30M334.92 390.40H344.52M334.92 400.30H344.52M357.61 393.00V401.40M352.81 393.00H362.41M352.81 401.40H362.41M375.51 384.90V394.40M370.71 384.90H380.31M370.71 394.40H380.31M393.40 389.30V396.40M388.60 389.30H398.20M388.60 396.40H398.20M411.30 387.00V399.40M406.50 387.00H416.10M406.50 399.40H416.10M429.19 390.90V397.00M424.39 390.90H434.00M424.39 397.00H434.00M447.09 385.20V395.10M442.29 385.20H451.89M442.29 395.10H451.89M464.98 383.80V395.90M460.18 383.80H469.78M460.18 395.90H469.78M482.88 392.70V399.10M478.08 392.70H487.68M478.08 399.10H487.68M500.77 391.20V398.60M495.97 391.20H505.57M495.97 398.60H505.57M518.67 391.70V398.80M513.87 391.70H523.47M513.87 398.80H523.47M536.56 386.50V397.80M531.76 386.50H541.36M531.76 397.80H541.36M554.46 385.40V395.10M549.66 385.40H559.26M549.66 395.10H559.26M572.36 388.80V398.00M567.56 388.80H577.15M567.56 398.00H577.15M590.25 392.40V400.40M585.45 392.40H595.05M585.45 400.40H595.05M608.14 391.60V400.80M603.35 391.60H612.94M603.35 400.80H612.94M626.04 394.20V400.40M621.24 394.20H630.84M621.24 400.40H630.84M643.93 392.10V401.30M639.13 392.10H648.73M639.13 401.30H648.73M661.83 389.00V398.80M657.03 389.00H666.63M657.03 398.80H666.63M679.72 385.50V396.20M674.92 385.50H684.52M674.92 396.20H684.52" stroke="#474747" stroke-width="1.3" fill="none"/>
<polyline points="53.40,391.10 71.30,388.80 89.19,389.30 107.09,395.80 124.98,395.00 142.88,394.30 160.77,392.20 178.66,392.00 196.56,391.20 214.46,392.30 232.35,392.80 250.25,393.70 268.14,390.10 286.03,394.00 303.93,394.50 321.82,394.20 339.72,395.40 357.61,397.20 375.51,389.30 393.40,392.80 411.30,393.20 429.19,393.90 447.09,390.40 464.98,389.30 482.88,395.90 500.77,394.90 518.67,395.30 536.56,392.20 554.46,390.10 572.36,393.40 590.25,396.40 608.14,396.20 626.04,397.30 643.93,396.70 661.83,393.90 679.72,390.90" stroke="#3c3c3c" stroke-width="1.1" fill="none"/>
<polyline points="53.40,393.30 71.30,394.00 89.19,395.90 107.09,394.40 124.98,395.10 142.88,394.00 160.77,393.30 178.66,393.30 196.56,393.90 214.46,394.40 232.35,393.90 250.25,393.60 268.14,394.80 286.03,394.00 303.93,393.60 321.82,393.90 339.72,395.50 357.61,394.40 375.51,392.80 393.40,392.80 411.30,392.80 429.19,393.60 447.09,393.30 464.98,392.80 482.88,393.60 500.77,394.40 518.67,395.90 536.56,393.30 554.46,393.60 572.36,393.90 590.25,394.70 608.14,394.70 626.04,395.80 643.93,393.90 661.83,393.60 679.72,393.20" stroke="#d42020" stroke-width="1.25" fill="none"/>
<g fill="#3c3c3c"><circle cx="53.40" cy="391.10" r="1.85"/><circle cx="71.30" cy="388.80" r="1.85"/><circle cx="89.19" cy="389.30" r="1.85"/><circle cx="107.09" cy="395.80" r="1.85"/><circle cx="124.98" cy="395.00" r="1.85"/><circle cx="142.88" cy="394.30" r="1.85"/><circle cx="160.77" cy="392.20" r="1.85"/><circle cx="178.66" cy="392.00" r="1.85"/><circle cx="196.56" cy="391.20" r="1.85"/><circle cx="214.46" cy="392.30" r="1.85"/><circle cx="232.35" cy="392.80" r="1.85"/><circle cx="250.25" cy="393.70" r="1.85"/><circle cx="268.14" cy="390.10" r="1.85"/><circle cx="286.03" cy="394.00" r="1.85"/><circle cx="303.93" cy="394.50" r="1.85"/><circle cx="321.82" cy="394.20" r="1.85"/><circle cx="339.72" cy="395.40" r="1.85"/><circle cx="357.61" cy="397.20" r="1.85"/><circle cx="375.51" cy="389.30" r="1.85"/><circle cx="393.40" cy="392.80" r="1.85"/><circle cx="411.30" cy="393.20" r="1.85"/><circle cx="429.19" cy="393.90" r="1.85"/><circle cx="447.09" cy="390.40" r="1.85"/><circle cx="464.98" cy="389.30" r="1.85"/><circle cx="482.88" cy="395.90" r="1.85"/><circle cx="500.77" cy="394.90" r="1.85"/><circle cx="518.67" cy="395.30" r="1.85"/><circle cx="536.56" cy="392.20" r="1.85"/><circle cx="554.46" cy="390.10" r="1.85"/><circle cx="572.36" cy="393.40" r="1.85"/><circle cx="590.25" cy="396.40" r="1.85"/><circle cx="608.14" cy="396.20" r="1.85"/><circle cx="626.04" cy="397.30" r="1.85"/><circle cx="643.93" cy="396.70" r="1.85"/><circle cx="661.83" cy="393.90" r="1.85"/><circle cx="679.72" cy="390.90" r="1.85"/></g>
<g fill="#ff0000"><circle cx="53.40" cy="393.30" r="2.0"/><circle cx="71.30" cy="394.00" r="2.0"/><circle cx="89.19" cy="395.90" r="2.0"/><circle cx="107.09" cy="394.40" r="2.0"/><circle cx="124.98" cy="395.10" r="2.0"/><circle cx="142.88" cy="394.00" r="2.0"/><circle cx="160.77" cy="393.30" r="2.0"/><circle cx="178.66" cy="393.30" r="2.0"/><circle cx="196.56" cy="393.90" r="2.0"/><circle cx="214.46" cy="394.40" r="2.0"/><circle cx="232.35" cy="393.90" r="2.0"/><circle cx="250.25" cy="393.60" r="2.0"/><circle cx="268.14" cy="394.80" r="2.0"/><circle cx="286.03" cy="394.00" r="2.0"/><circle cx="303.93" cy="393.60" r="2.0"/><circle cx="321.82" cy="393.90" r="2.0"/><circle cx="339.72" cy="395.50" r="2.0"/><circle cx="357.61" cy="394.40" r="2.0"/><circle cx="375.51" cy="392.80" r="2.0"/><circle cx="393.40" cy="392.80" r="2.0"/><circle cx="411.30" cy="392.80" r="2.0"/><circle cx="429.19" cy="393.60" r="2.0"/><circle cx="447.09" cy="393.30" r="2.0"/><circle cx="464.98" cy="392.80" r="2.0"/><circle cx="482.88" cy="393.60" r="2.0"/><circle cx="500.77" cy="394.40" r="2.0"/><circle cx="518.67" cy="395.90" r="2.0"/><circle cx="536.56" cy="393.30" r="2.0"/><circle cx="554.46" cy="393.60" r="2.0"/><circle cx="572.36" cy="393.90" r="2.0"/><circle cx="590.25" cy="394.70" r="2.0"/><circle cx="608.14" cy="394.70" r="2.0"/><circle cx="626.04" cy="395.80" r="2.0"/><circle cx="643.93" cy="393.90" r="2.0"/><circle cx="661.83" cy="393.60" r="2.0"/><circle cx="679.72" cy="393.20" r="2.0"/></g>
</g>
<rect x="267.5" y="4" width="199" height="398.6" fill="#fde0e3" style="mix-blend-mode:multiply"/>
<g font-family="Liberation Sans, sans-serif" fill="#202020" stroke="#202020" stroke-width="0.22"><text x="39.6" y="57.00" font-size="9.5" text-anchor="end">0</text><text x="39.6" y="45.17" font-size="9.5" text-anchor="end">20</text><text x="39.6" y="33.35" font-size="9.5" text-anchor="end">40</text><text x="39.6" y="21.52" font-size="9.5" text-anchor="end">60</text><text x="39.6" y="9.70" font-size="9.5" text-anchor="end">80</text><text x="55.3" y="13.60" font-size="10.5" text-anchor="start">a)</text><text x="611.3" y="15.70" font-size="9.5" text-anchor="start">S1 - Carapungo</text><text x="340.70" y="11.90" font-size="9.5" text-anchor="start">&#160;7.03%</text><text x="554.80" y="13.00" font-size="9.5" text-anchor="start">&#160;2.93%</text><text x="39.6" y="112.70" font-size="9.5" text-anchor="end">0</text><text x="39.6" y="100.85" font-size="9.5" text-anchor="end">20</text><text x="39.6" y="89.00" font-size="9.5" text-anchor="end">40</text><text x="39.6" y="77.15" font-size="9.5" text-anchor="end">60</text><text x="39.6" y="65.30" font-size="9.5" text-anchor="end">80</text><text x="55.2" y="67.80" font-size="10.5" text-anchor="start">b)</text><text x="611.3" y="70.90" font-size="9.5" text-anchor="start">S2 - Cotocollao</text><text x="339.70" y="65.90" font-size="9.5" text-anchor="start">-4.64%</text><text x="553.80" y="65.50" font-size="9.5" text-anchor="start">-4.07%</text><text x="39.6" y="168.20" font-size="9.5" text-anchor="end">0</text><text x="39.6" y="156.30" font-size="9.5" text-anchor="end">20</text><text x="39.6" y="144.40" font-size="9.5" text-anchor="end">40</text><text x="39.6" y="132.50" font-size="9.5" text-anchor="end">60</text><text x="39.6" y="120.60" font-size="9.5" text-anchor="end">80</text><text x="55.3" y="122.80" font-size="10.5" text-anchor="start">c)</text><text x="614.1999999999999" y="127.60" font-size="9.5" text-anchor="start">S3 - Belisario</text><text x="339.70" y="121.70" font-size="9.5" text-anchor="start">-47.84%</text><text x="553.80" y="120.50" font-size="9.5" text-anchor="start">-15.93%</text><text x="39.6" y="223.80" font-size="9.5" text-anchor="end">0</text><text x="39.6" y="211.90" font-size="9.5" text-anchor="end">20</text><text x="39.6" y="200.00" font-size="9.5" text-anchor="end">40</text><text x="39.6" y="188.10" font-size="9.5" text-anchor="end">60</text><text x="39.6" y="176.20" font-size="9.5" text-anchor="end">80</text><text x="56.4" y="178.70" font-size="10.5" text-anchor="start">d)</text><text x="615.3" y="182.90" font-size="9.5" text-anchor="start">S4 - Centro</text><text x="339.70" y="176.40" font-size="9.5" text-anchor="start">-12.98%</text><text x="553.80" y="176.40" font-size="9.5" text-anchor="start">-0.85%</text><text x="39.6" y="295.30" font-size="9.5" text-anchor="end">0</text><text x="39.6" y="282.40" font-size="9.5" text-anchor="end">20</text><text x="39.6" y="269.50" font-size="9.5" text-anchor="end">40</text><text x="39.6" y="256.60" font-size="9.5" text-anchor="end">60</text><text x="39.6" y="243.70" font-size="9.5" text-anchor="end">80</text><text x="39.6" y="243.40" font-size="9.5" text-anchor="end">80</text><text x="39.6" y="237.80" font-size="9.5" text-anchor="end">120</text><text x="39.6" y="231.80" font-size="9.5" text-anchor="end">160</text><text x="56.4" y="234.80" font-size="10.5" text-anchor="start">e)</text><text x="615.0999999999999" y="238.00" font-size="9.5" text-anchor="start">S5 - Camal</text><text x="339.70" y="230.80" font-size="9.5" text-anchor="start">-7.62%</text><text x="553.80" y="231.60" font-size="9.5" text-anchor="start">-1.53%</text><text x="39.6" y="350.80" font-size="9.5" text-anchor="end">0</text><text x="39.6" y="338.92" font-size="9.5" text-anchor="end">20</text><text x="39.6" y="327.05" font-size="9.5" text-anchor="end">40</text><text x="39.6" y="315.17" font-size="9.5" text-anchor="end">60</text><text x="39.6" y="303.30" font-size="9.5" text-anchor="end">80</text><text x="55.4" y="307.00" font-size="10.5" text-anchor="start">f)</text><text x="614.3" y="309.00" font-size="9.5" text-anchor="start">S6 - Guamani</text><text x="339.70" y="301.50" font-size="9.5" text-anchor="start">-10.47%</text><text x="553.80" y="303.60" font-size="9.5" text-anchor="start">-21.11%</text><text x="39.6" y="406.40" font-size="9.5" text-anchor="end">0</text><text x="39.6" y="394.52" font-size="9.5" text-anchor="end">20</text><text x="39.6" y="382.65" font-size="9.5" text-anchor="end">40</text><text x="39.6" y="370.77" font-size="9.5" text-anchor="end">60</text><text x="39.6" y="358.90" font-size="9.5" text-anchor="end">80</text><text x="55.3" y="361.00" font-size="10.5" text-anchor="start">g)</text><text x="616.0999999999999" y="365.90" font-size="9.5" text-anchor="start">S7 - Chillos</text><text x="340.70" y="356.80" font-size="9.5" text-anchor="start">&#160;1.26%</text><text x="553.80" y="356.80" font-size="9.5" text-anchor="start">-7.08%</text><text x="71.30" y="429.7" font-size="9.5" text-anchor="middle">9/21/2019</text><text x="160.77" y="429.7" font-size="9.5" text-anchor="middle">9/26/2019</text><text x="250.25" y="429.7" font-size="9.5" text-anchor="middle">10/1/2019</text><text x="339.72" y="429.7" font-size="9.5" text-anchor="middle">10/6/2019</text><text x="429.19" y="429.7" font-size="9.5" text-anchor="middle">10/11/2019</text><text x="518.67" y="429.7" font-size="9.5" text-anchor="middle">10/16/2019</text><text x="608.14" y="429.7" font-size="9.5" text-anchor="middle">10/21/2019</text><text x="365.2" y="449.7" font-size="10.2" text-anchor="middle">Date</text><g transform="rotate(-90)"><text x="-281.9" y="13.6" font-size="10.2">PM</text><text x="-265.8" y="16.6" font-size="7.2">2.5</text><text x="-251.6" y="13.6" font-size="10.3">concentration</text><text x="-187.1" y="13.6" font-size="10.3">[µg m</text><text x="-157.1" y="7.2" font-size="7.2">-3</text><text x="-150.5" y="13.6" font-size="10.3">]</text></g></g>
<rect x="128.6" y="229.6" width="51" height="25" fill="#fff" stroke="#555" stroke-width="1"/>
<line x1="131" y1="236" x2="148.7" y2="236" stroke="#3c3c3c" stroke-width="1.1"/><circle cx="139.6" cy="236" r="2.35" fill="#3c3c3c"/>
<line x1="131" y1="247.6" x2="148.7" y2="247.6" stroke="#d42020" stroke-width="1.25"/><circle cx="139.6" cy="247.6" r="2.5" fill="#ff0000"/>
<text x="152.2" y="239.4" font-family="Liberation Sans, sans-serif" font-size="9.5" fill="#202020" stroke="#202020" stroke-width="0.22">Real</text>
<text x="152.2" y="251" font-family="Liberation Sans, sans-serif" font-size="9.5" fill="#202020" stroke="#202020" stroke-width="0.22">Model</text>
</svg>
</body></html>
